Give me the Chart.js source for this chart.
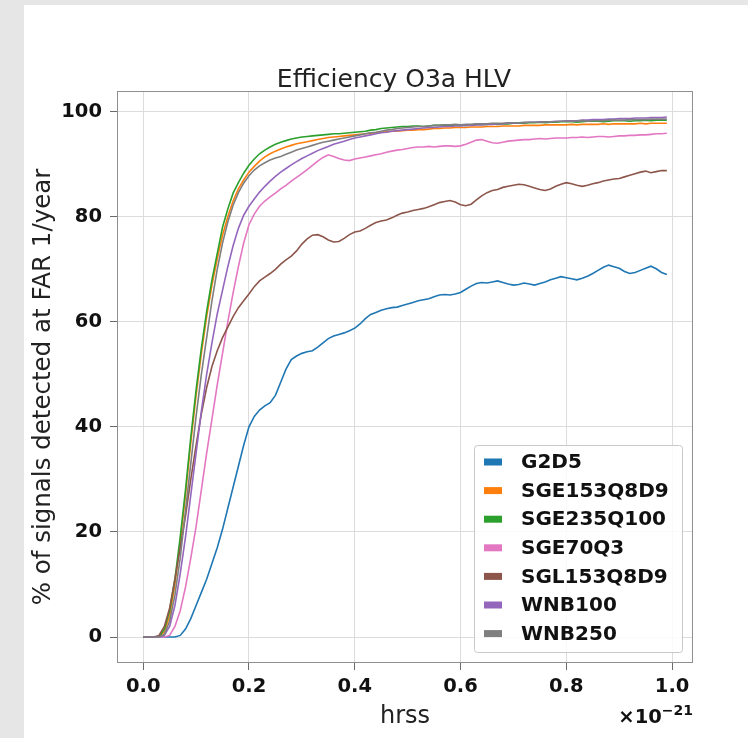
<!DOCTYPE html>
<html>
<head>
<meta charset="utf-8">
<title>Efficiency O3a HLV</title>
<script src="https://cdn.jsdelivr.net/npm/chart.js@4.4.1/dist/chart.umd.min.js"></script>
<style>
  html, body { margin: 0; padding: 0; background: #e6e6e6; }
  #wrap { position: absolute; left: 24px; top: 5px; width: 724px; height: 733px; background: #fff; }
  canvas { display: block; }
</style>
</head>
<body>
<div id="wrap"><canvas id="myGrafic" width="724" height="733"></canvas></div>
<script>
// eje x (hrss, en unidades de 1e-21)
const hrss = [
  0.00, 0.01, 0.02, 0.03, 0.04, 0.05, 0.06, 0.07, 0.08, 0.09,
  0.10, 0.11, 0.12, 0.13, 0.14, 0.15, 0.16, 0.17, 0.18, 0.19,
  0.20, 0.21, 0.22, 0.23, 0.24, 0.25, 0.26, 0.27, 0.28, 0.29,
  0.30, 0.31, 0.32, 0.33, 0.34, 0.35, 0.36, 0.37, 0.38, 0.39,
  0.40, 0.41, 0.42, 0.43, 0.44, 0.45, 0.46, 0.47, 0.48, 0.49,
  0.50, 0.51, 0.52, 0.53, 0.54, 0.55, 0.56, 0.57, 0.58, 0.59,
  0.60, 0.61, 0.62, 0.63, 0.64, 0.65, 0.66, 0.67, 0.68, 0.69,
  0.70, 0.71, 0.72, 0.73, 0.74, 0.75, 0.76, 0.77, 0.78, 0.79,
  0.80, 0.81, 0.82, 0.83, 0.84, 0.85, 0.86, 0.87, 0.88, 0.89,
  0.90, 0.91, 0.92, 0.93, 0.94, 0.95, 0.96, 0.97, 0.98, 0.99
];

const seriesNames = ['G2D5', 'SGE153Q8D9', 'SGE235Q100', 'SGE70Q3', 'SGL153Q8D9', 'WNB100', 'WNB250'];
const seriesColors = ['#1f77b4', '#ff7f0e', '#2ca02c', '#e377c2', '#8c564b', '#9467bd', '#7f7f7f'];

// % de senales detectadas
const g2d5 = [
  0, 0, 0, 0, 0, 0, 0, 0.3, 1.5, 3.5,
  6, 8.5, 11, 14, 17, 20.5, 24.5, 28.5, 32.5, 36.5,
  40, 42, 43.2, 44, 44.6, 46, 48.5, 51, 52.8, 53.5,
  54, 54.3, 54.5, 55.2, 56, 56.8, 57.3, 57.6, 57.9, 58.3,
  58.8, 59.6, 60.6, 61.4, 61.8, 62.2, 62.5, 62.7, 62.8, 63.1,
  63.4, 63.7, 64, 64.2, 64.4, 64.8, 65.1, 65.2, 65.1, 65.3,
  65.6, 66.2, 66.8, 67.3, 67.5, 67.4, 67.6, 67.8, 67.5, 67.2,
  67, 67.1, 67.4, 67.2, 67, 67.3, 67.6, 68, 68.3, 68.6,
  68.4, 68.2, 68, 68.3, 68.7, 69.2, 69.8, 70.4, 70.8, 70.5,
  70.2, 69.6, 69.2, 69.4, 69.8, 70.2, 70.6, 70.1, 69.4, 69
];
const sge153q8d9 = [
  0, 0, 0, 0, 1, 4, 10, 18, 27, 37,
  46, 54, 61, 67, 72, 76.5, 80, 83, 85.3, 87,
  88.5, 89.6, 90.6, 91.4, 92, 92.5, 92.9, 93.3, 93.6, 93.9,
  94.1, 94.3, 94.5, 94.7, 94.9, 95.1, 95.2, 95.3, 95.4, 95.5,
  95.6, 95.7, 95.8, 95.9, 96, 96.1, 96.2, 96.3, 96.3, 96.4,
  96.5, 96.5, 96.6, 96.6, 96.7, 96.8, 96.8, 96.9, 96.9, 97,
  97, 97, 97.1, 97.1, 97.1, 97.2, 97.2, 97.2, 97.3, 97.3,
  97.3, 97.3, 97.4, 97.4, 97.4, 97.4, 97.5, 97.5, 97.5, 97.5,
  97.5, 97.6, 97.5, 97.6, 97.6, 97.6, 97.6, 97.7, 97.6, 97.7,
  97.7, 97.7, 97.7, 97.7, 97.8, 97.7, 97.8, 97.8, 97.8, 97.8
];
const sge235q100 = [
  0, 0, 0, 0, 1.5, 5, 11, 19, 28, 38,
  47, 55, 62, 68, 73, 78, 81.5, 84.5, 86.5, 88.3,
  89.8, 91, 92, 92.7, 93.3, 93.8, 94.2, 94.5, 94.8, 95,
  95.2, 95.3, 95.4, 95.5, 95.6, 95.7, 95.8, 95.8, 95.9, 96,
  96.1, 96.2, 96.3, 96.5, 96.6, 96.8, 96.9, 97, 97.1, 97.2,
  97.2, 97.3, 97.3, 97.2, 97.3, 97.4, 97.4, 97.5, 97.4, 97.5,
  97.5, 97.4, 97.5, 97.6, 97.6, 97.6, 97.7, 97.6, 97.7, 97.7,
  97.8, 97.8, 97.8, 97.9, 97.9, 98, 97.9, 98, 98, 98.1,
  98.1, 98.1, 98, 98.1, 98.2, 98.2, 98.2, 98.1, 98.2, 98.3,
  98.3, 98.3, 98.2, 98.3, 98.3, 98.4, 98.3, 98.4, 98.4, 98.4
];
const sge70q3 = [
  0, 0, 0, 0, 0, 0.3, 2, 5, 9.5, 15,
  21, 28, 35, 41.5, 48, 54, 60, 65.5, 70.5, 75,
  78.5, 80.5, 82, 83, 83.8, 84.5, 85.3, 86, 86.8, 87.5,
  88.2, 89, 89.8, 90.6, 91.3, 91.8, 91.5, 91.1, 90.8, 90.7,
  91, 91.2, 91.4, 91.6, 91.8, 92, 92.3, 92.5, 92.7, 92.8,
  93, 93.2, 93.3, 93.3, 93.4, 93.3, 93.4, 93.5, 93.5, 93.4,
  93.5, 93.8, 94.2, 94.6, 94.7, 94.4, 94.1, 94, 94.2, 94.4,
  94.5, 94.6, 94.7, 94.7, 94.8, 94.9, 94.8, 94.9, 95, 95,
  95, 95.1, 95.1, 95.2, 95.1, 95.2, 95.3, 95.3, 95.2, 95.3,
  95.4, 95.4, 95.5, 95.5, 95.6, 95.6, 95.7, 95.8, 95.8, 95.9
];
const sgl153q8d9 = [
  0, 0, 0, 0.3, 2, 5.5, 11, 17, 23, 30,
  36.5, 42.5, 47.5, 51.5, 54.5, 57, 59, 61, 62.7, 64,
  65.3, 66.7, 67.8, 68.5, 69.2, 70, 71, 71.8, 72.5, 73.5,
  74.8, 75.8, 76.5, 76.6, 76.2, 75.6, 75.2, 75.3, 75.9, 76.6,
  77.1, 77.3, 77.8, 78.4, 78.9, 79.2, 79.4, 79.8, 80.3, 80.7,
  80.9, 81.2, 81.4, 81.6, 81.9, 82.3, 82.7, 82.9, 83.1, 82.8,
  82.3, 82.1, 82.4, 83.2, 84, 84.6, 85, 85.2, 85.6, 85.8,
  86, 86.2, 86.1, 85.8, 85.5, 85.2, 85, 85.3, 85.8, 86.2,
  86.5, 86.3, 86, 85.8, 86, 86.3, 86.5, 86.8, 87, 87.2,
  87.3, 87.6, 87.9, 88.2, 88.5, 88.7, 88.4, 88.6, 88.8, 88.8
];
const wnb100 = [
  0, 0, 0, 0, 0.3, 2, 6, 12, 19, 27,
  35, 43, 50, 56, 61.5, 66, 70.5, 74.5, 77.8, 80.3,
  82, 83.4, 84.7, 85.8, 86.8, 87.7, 88.5, 89.2, 89.9, 90.5,
  91.1, 91.6, 92.1, 92.6, 93, 93.4, 93.8, 94.1, 94.4, 94.7,
  95, 95.2, 95.4, 95.6, 95.8, 96, 96.1, 96.3, 96.4, 96.5,
  96.6, 96.7, 96.8, 96.9, 97, 97, 97.1, 97.2, 97.2, 97.3,
  97.3, 97.4, 97.4, 97.5, 97.5, 97.6, 97.6, 97.7, 97.7, 97.8,
  97.8, 97.9, 97.9, 98, 98, 98.1, 98.1, 98.1, 98.2, 98.2,
  98.3, 98.3, 98.3, 98.4, 98.4, 98.5, 98.5, 98.5, 98.6, 98.6,
  98.7, 98.7, 98.7, 98.8, 98.8, 98.8, 98.9, 98.9, 98.9, 99
];
const wnb250 = [
  0, 0, 0, 0, 0.5, 3, 8, 15, 24, 33,
  42, 50, 57, 64, 70, 75, 79, 82.2, 84.6, 86.4,
  87.8, 88.9, 89.7, 90.3, 90.8, 91.2, 91.5, 91.9, 92.3, 92.7,
  93, 93.3, 93.6, 93.9, 94.2, 94.4, 94.6, 94.8, 95, 95.2,
  95.4, 95.6, 95.8, 96, 96.1, 96.3, 96.5, 96.6, 96.8, 96.9,
  97, 97.1, 97.2, 97.2, 97.3, 97.4, 97.4, 97.5, 97.5, 97.6,
  97.5, 97.6, 97.6, 97.7, 97.7, 97.7, 97.8, 97.8, 97.8, 97.9,
  97.9, 97.9, 98, 98, 98, 98, 98.1, 98.1, 98.1, 98.2,
  98.2, 98.2, 98.2, 98.3, 98.2, 98.3, 98.3, 98.3, 98.4, 98.4,
  98.4, 98.4, 98.5, 98.5, 98.5, 98.5, 98.6, 98.6, 98.6, 98.6
];

const seriesValues = [g2d5, sge153q8d9, sge235q100, sge70q3, sgl153q8d9, wnb100, wnb250];

const xTicks = [0, 0.2, 0.4, 0.6, 0.8, 1.0];
const yTicks = [0, 20, 40, 60, 80, 100];

Chart.defaults.font.family = '"DejaVu Sans", sans-serif';

// textos, marco y leyenda al estilo matplotlib
const extras = {
  id: 'extras',
  afterDatasetsDraw(chart) {
    const ctx = chart.ctx;
    const a = chart.chartArea;
    ctx.save();

    // marco
    ctx.strokeStyle = '#8f8f8f';
    ctx.lineWidth = 1;
    ctx.strokeRect(Math.round(a.left) + 0.5, Math.round(a.top) + 0.5,
      Math.round(a.right - a.left) - 1, Math.round(a.bottom - a.top) - 1);

    // titulo
    ctx.fillStyle = '#222';
    ctx.font = '25px "DejaVu Sans"';
    ctx.textAlign = 'center';
    ctx.textBaseline = 'alphabetic';
    ctx.fillText('Efficiency O3a HLV', (a.left + a.right) / 2 - 11, 82);

    // eje x
    ctx.font = '24px "DejaVu Sans"';
    ctx.fillText('hrss', (a.left + a.right) / 2, 718);

    // eje y
    ctx.save();
    ctx.translate(26, 382);
    ctx.rotate(-Math.PI / 2);
    ctx.font = '24.5px "DejaVu Sans"';
    ctx.fillText('% of signals detected at FAR 1/year', 0, 0);
    ctx.restore();

    // factor de escala
    ctx.fillStyle = '#111';
    ctx.textAlign = 'right';
    ctx.font = 'bold 14px "DejaVu Sans"';
    const sup = '\u221221';
    const w = ctx.measureText(sup).width;
    ctx.fillText(sup, a.right, 710);
    ctx.font = 'bold 19.5px "DejaVu Sans"';
    ctx.fillText('\u00d710', a.right - w, 718);

    // leyenda
    const lw = 208, lh = 207;
    const lx = a.right - 11 - lw, ly = a.bottom - 11 - lh;
    ctx.beginPath();
    ctx.roundRect(lx + 0.5, ly + 0.5, lw, lh, 3);
    ctx.fillStyle = 'rgba(255,255,255,0.85)';
    ctx.fill();
    ctx.strokeStyle = '#c8c8c8';
    ctx.stroke();
    ctx.font = 'bold 20px "DejaVu Sans"';
    ctx.textAlign = 'left';
    ctx.textBaseline = 'middle';
    for (let i = 0; i < seriesNames.length; i++) {
      const cy = ly + 17 + 28.6 * i;
      ctx.fillStyle = seriesColors[i];
      ctx.fillRect(lx + 10, cy - 3.5, 18, 7);
      ctx.fillStyle = '#111';
      ctx.fillText(seriesNames[i], lx + 47, cy + 1);
    }
    ctx.restore();
  }
};

let datasets = [];
for (let i in seriesNames) {
  datasets.push({
    label: seriesNames[i],
    data: seriesValues[i],
    borderColor: seriesColors[i],
    backgroundColor: seriesColors[i],
    borderWidth: 1.6,
    pointRadius: 0,
    tension: 0,
    fill: false,
    order: seriesNames.length - i
  });
}

let myChart = {
  type: 'line',
  data: {
    labels: hrss,
    datasets: datasets
  },
  options: {
    responsive: false,
    animation: false,
    devicePixelRatio: 1,
    layout: { padding: { top: 86, right: 55, left: 0, bottom: 0 } },
    plugins: {
      legend: { display: false },
      title: { display: false },
      tooltip: { enabled: false }
    },
    scales: {
      x: {
        type: 'linear',
        min: -0.0495,
        max: 1.0395,
        afterBuildTicks: (s) => { s.ticks = xTicks.map(v => ({ value: v })); },
        afterFit: (s) => { s.height = 75; },
        ticks: {
          autoSkip: false,
          maxRotation: 0,
          padding: 5,
          color: '#111',
          font: { size: 19.5, weight: 'bold' },
          callback: (v) => Number(v).toFixed(1)
        },
        grid: { color: '#dcdcdc', tickColor: '#6a6a6a', tickLength: 7, lineWidth: 1 },
        border: { display: false }
      },
      y: {
        min: -4.95,
        max: 103.95,
        afterBuildTicks: (s) => { s.ticks = yTicks.map(v => ({ value: v })); },
        afterFit: (s) => { s.width = 93; },
        ticks: {
          padding: 8,
          color: '#111',
          font: { size: 19.5, weight: 'bold' },
          callback: (v) => String(v)
        },
        grid: { color: '#dcdcdc', tickColor: '#6a6a6a', tickLength: 7, lineWidth: 1 },
        border: { display: false }
      }
    }
  },
  plugins: [extras]
};

var myGrafic = document.getElementById('myGrafic');
window.efficiency = new Chart(myGrafic, myChart);
</script>
</body>
</html>
